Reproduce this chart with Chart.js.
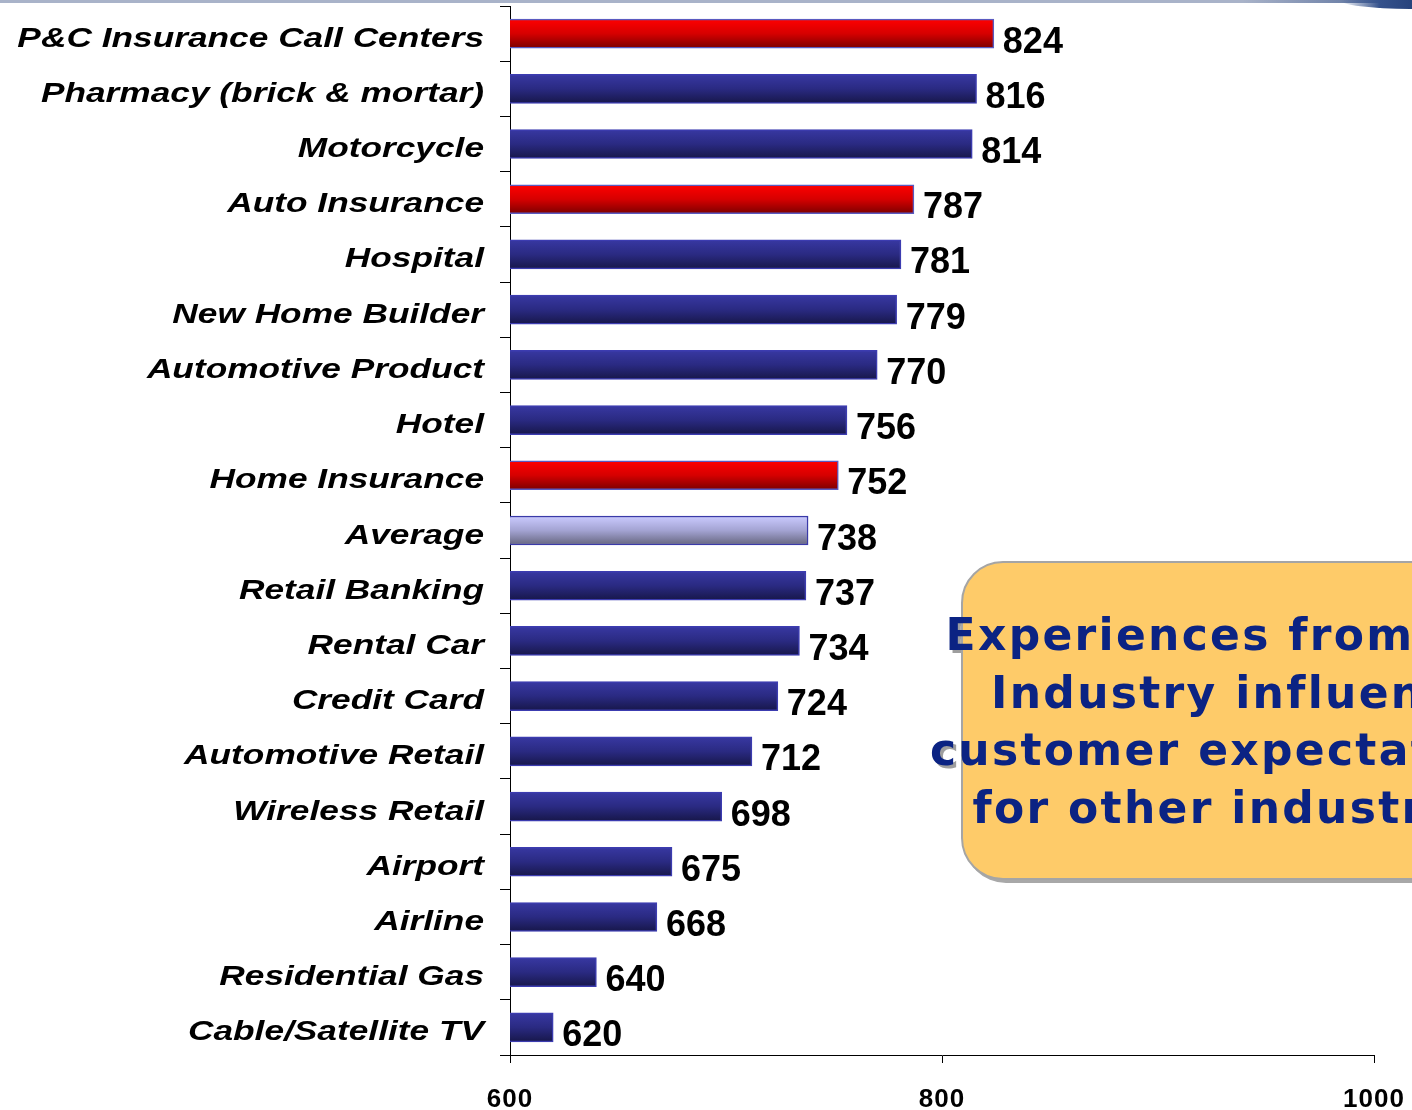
<!DOCTYPE html>
<html>
<head>
<meta charset="utf-8">
<title>Customer satisfaction index by industry</title>
<script src="https://cdn.jsdelivr.net/npm/chart.js@4.4.1/dist/chart.umd.min.js"></script>
<style>
  html, body { margin: 0; padding: 0; background: #fff; overflow: hidden; width: 1412px; height: 1110px; }
  #wrap { position: relative; width: 1412px; height: 1110px; overflow: hidden; }
  #chart { position: absolute; left: 0; top: 0; }
  .rule { position: absolute; left: 0; top: 0; width: 1412px; height: 3px;
          background: linear-gradient(to right, #a9b3c9 0%, #a9b3c9 88%, #4a6394 100%); }
  .corner { position: absolute; right: 0; top: 0; width: 72px; height: 9px;
            background: linear-gradient(to right, rgba(45,75,135,0) 0%, #35528c 55%, #27437c 100%);
            border-bottom-left-radius: 70px 9px; }
  .note-box { position: absolute; left: 961px; top: 561px; width: 560px; height: 315px;
              background: #fecb69; border: 2px solid #a5a5a5; border-radius: 42px;
              box-shadow: 3px 3px 0 #a8a8a8; }
  .note-text, .note-shadow { position: absolute; left: 838px; top: 606px; width: 800px;
              text-align: center; font: bold 44px "DejaVu Sans", Verdana, sans-serif;
              letter-spacing: 2.3px; line-height: 57.5px; white-space: nowrap; }
  .note-shadow { left: 841px; top: 609px; color: #9e9e9e; }
  .note-text { color: #0b2383; }
</style>
</head>
<body>
<div id="wrap">
  <canvas id="chart" width="1412" height="1110"></canvas>
  <div class="rule"></div>
  <div class="corner"></div>
  <div class="note-shadow">Experiences from one<br>Industry influence<br>customer expectations<br>for other industries</div>
  <div class="note-box"></div>
  <div class="note-text">Experiences from one<br>Industry influence<br>customer expectations<br>for other industries</div>
</div>
<script>
// Industry satisfaction index scores, highest to lowest
const categories = [
  'P&C Insurance Call Centers',
  'Pharmacy (brick & mortar)',
  'Motorcycle',
  'Auto Insurance',
  'Hospital',
  'New Home Builder',
  'Automotive Product',
  'Hotel',
  'Home Insurance',
  'Average',
  'Retail Banking',
  'Rental Car',
  'Credit Card',
  'Automotive Retail',
  'Wireless Retail',
  'Airport',
  'Airline',
  'Residential Gas',
  'Cable/Satellite TV'
];
const scores = [824, 816, 814, 787, 781, 779, 770, 756, 752, 738, 737, 734, 724, 712, 698, 675, 668, 640, 620];
const insuranceRows = ['P&C Insurance Call Centers', 'Auto Insurance', 'Home Insurance'];
const benchmarkRow = 'Average';
const xTicks = [600, 800, 1000];

const BAR_HALF = 14.5;

function paletteFor(name) {
  if (name === benchmarkRow) return { stops: ['#cbcbff', '#a3a3d2', '#66667f'], edge: '#3a3aa8' };
  if (insuranceRows.includes(name)) return { stops: ['#ff0000', '#d60000', '#7c0000'], edge: '#5a5ac0' };
  return { stops: ['#3838a2', '#2a2a82', '#17174a'], edge: '#3c3cb0' };
}

function barFill(c) {
  const chart = c.chart;
  const p = paletteFor(categories[c.dataIndex]);
  const y = chart.scales && chart.scales.y;
  if (!y || !chart.chartArea || !isFinite(y.getPixelForValue(c.dataIndex))) return p.stops[1];
  const mid = y.getPixelForValue(c.dataIndex);
  const g = chart.ctx.createLinearGradient(0, mid - BAR_HALF, 0, mid + BAR_HALF);
  g.addColorStop(0, p.stops[0]);
  g.addColorStop(0.5, p.stops[1]);
  g.addColorStop(1, p.stops[2]);
  return g;
}

// Numeric score printed just past the end of each bar
const valueLabels = {
  id: 'valueLabels',
  afterDatasetsDraw(chart) {
    const ctx = chart.ctx;
    const meta = chart.getDatasetMeta(0);
    ctx.save();
    ctx.font = 'bold 36px "Liberation Sans", Arial, sans-serif';
    ctx.letterSpacing = '0px';
    ctx.fillStyle = '#000';
    ctx.textAlign = 'left';
    ctx.textBaseline = 'alphabetic';
    meta.data.forEach((bar, i) => {
      ctx.fillText(String(scores[i]), bar.x + 9, bar.y + 19);
    });
    ctx.restore();
  }
};

// Wide bold-italic industry names, right-aligned against the axis
const categoryLabels = {
  id: 'categoryLabels',
  afterDraw(chart) {
    const ctx = chart.ctx;
    const y = chart.scales.y;
    ctx.save();
    ctx.letterSpacing = '0px';
    ctx.font = 'italic bold 28px "Liberation Sans", Arial, sans-serif';
    ctx.fillStyle = '#000';
    ctx.textAlign = 'right';
    ctx.textBaseline = 'alphabetic';
    categories.forEach((name, i) => {
      const py = y.getPixelForValue(i);
      ctx.save();
      ctx.translate(484, py + 13);
      ctx.scale(1.26, 1);
      ctx.fillText(name, 0, 0);
      ctx.restore();
    });
    ctx.restore();
  }
};

// Slightly spread digits on the score axis
const axisSpacing = {
  id: 'axisSpacing',
  beforeDraw(chart) { chart.ctx.letterSpacing = '1px'; },
  beforeDatasetsDraw(chart) { chart.ctx.letterSpacing = '0px'; }
};

new Chart(document.getElementById('chart'), {
  type: 'bar',
  data: {
    labels: categories,
    datasets: [{
      data: scores,
      backgroundColor: barFill,
      borderColor: c => paletteFor(categories[c.dataIndex]).edge,
      borderWidth: 1.5,
      borderSkipped: 'start',
      barThickness: 29
    }]
  },
  options: {
    indexAxis: 'y',
    responsive: false,
    devicePixelRatio: 1,
    animation: false,
    layout: { padding: { top: 6, right: 38, left: 0, bottom: 0 } },
    plugins: {
      legend: { display: false },
      tooltip: { enabled: false }
    },
    scales: {
      x: {
        type: 'linear',
        position: 'bottom',
        min: 600,
        max: 1000,
        afterBuildTicks: s => { s.ticks = xTicks.map(v => ({ value: v })); },
        afterFit: s => { s.height = 55; s.paddingLeft = 0; s.paddingRight = 0; },
        ticks: {
          color: '#000',
          padding: 21,
          maxRotation: 0,
          callback: v => String(v),
          font: { family: '"Liberation Sans", Arial, sans-serif', weight: 'bold', size: 26 }
        },
        grid: { drawOnChartArea: false, drawTicks: true, tickLength: 8, color: '#000', lineWidth: 1 },
        border: { display: true, color: '#000', width: 1 }
      },
      y: {
        type: 'category',
        afterFit: s => { s.width = 510; },
        ticks: { display: false },
        grid: { drawOnChartArea: false, drawTicks: true, offset: true, tickLength: 10, color: '#000', lineWidth: 1 },
        border: { display: true, color: '#000', width: 1 }
      }
    }
  },
  plugins: [valueLabels, categoryLabels, axisSpacing]
});
</script>
</body>
</html>
